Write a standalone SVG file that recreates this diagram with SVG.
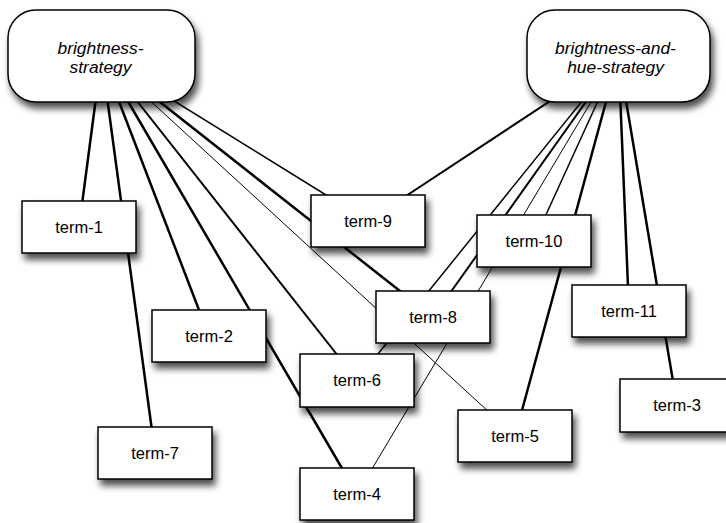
<svg xmlns="http://www.w3.org/2000/svg" width="726" height="523" viewBox="0 0 726 523">
<defs>
<filter id="sh" x="-20%" y="-20%" width="150%" height="160%">
<feGaussianBlur in="SourceAlpha" stdDeviation="3.5"/>
<feOffset dx="3" dy="6" result="b"/>
<feComponentTransfer><feFuncA type="linear" slope="0.7"/></feComponentTransfer>
<feMerge><feMergeNode/><feMergeNode in="SourceGraphic"/></feMerge>
</filter>
</defs>
<style>
.box{fill:#fff;stroke:#000;stroke-width:1.5;filter:url(#sh)}
.t{font-family:"Liberation Sans",Arial,sans-serif;font-size:16.5px;text-anchor:middle;fill:#000}
.h{font-family:"Liberation Sans",Arial,sans-serif;font-size:17.4px;font-style:italic;text-anchor:middle;fill:#000}
.e{stroke:#000;fill:none}
</style>
<rect width="726" height="523" fill="#fff"/>
<g id="connectors">
<line class="e" x1="101.5" y1="56" x2="79" y2="227" stroke-width="2.5"/>
<line class="e" x1="101.5" y1="56" x2="155" y2="453" stroke-width="2.5"/>
<line class="e" x1="101.5" y1="56" x2="209" y2="336" stroke-width="2.5"/>
<line class="e" x1="101.5" y1="56" x2="357" y2="494" stroke-width="2.5"/>
<line class="e" x1="101.5" y1="56" x2="357" y2="380" stroke-width="2"/>
<line class="e" x1="101.5" y1="56" x2="515" y2="436" stroke-width="1"/>
<line class="e" x1="101.5" y1="56" x2="433" y2="317" stroke-width="2.5"/>
<line class="e" x1="101.5" y1="56" x2="368" y2="221" stroke-width="1.5"/>
<line class="e" x1="618.5" y1="56" x2="368" y2="221" stroke-width="2"/>
<line class="e" x1="618.5" y1="56" x2="357" y2="380" stroke-width="1.5"/>
<line class="e" x1="618.5" y1="56" x2="433" y2="317" stroke-width="2"/>
<line class="e" x1="618.5" y1="56" x2="357" y2="494" stroke-width="1"/>
<line class="e" x1="618.5" y1="56" x2="534" y2="241" stroke-width="1.5"/>
<line class="e" x1="618.5" y1="56" x2="515" y2="436" stroke-width="2.5"/>
<line class="e" x1="618.5" y1="56" x2="629" y2="311" stroke-width="2.5"/>
<line class="e" x1="618.5" y1="56" x2="677" y2="405" stroke-width="2.5"/>
</g>
<g id="brightness-strategy">
<rect class="box" x="8" y="10" width="187" height="92" rx="28" ry="28"/>
<text class="h" x="100.5" y="53.5">brightness-</text>
<text class="h" x="100.5" y="72.5">strategy</text>
</g>
<g id="brightness-and-hue-strategy">
<rect class="box" x="527" y="10" width="183" height="92" rx="28" ry="28"/>
<text class="h" x="615.5" y="53.5">brightness-and-</text>
<text class="h" x="615.5" y="72.5">hue-strategy</text>
</g>
<g id="term-1"><rect class="box" x="22" y="201" width="114" height="52"/><text class="t" x="79" y="233">term-1</text></g>
<g id="term-2"><rect class="box" x="152" y="310" width="114" height="52"/><text class="t" x="209" y="342">term-2</text></g>
<g id="term-9"><rect class="box" x="311" y="195" width="114" height="52"/><text class="t" x="368" y="227">term-9</text></g>
<g id="term-10"><rect class="box" x="477" y="215" width="114" height="52"/><text class="t" x="534" y="247">term-10</text></g>
<g id="term-8"><rect class="box" x="376" y="291" width="114" height="52"/><text class="t" x="433" y="323">term-8</text></g>
<g id="term-6"><rect class="box" x="300" y="354" width="114" height="53"/><text class="t" x="357" y="386">term-6</text></g>
<g id="term-11"><rect class="box" x="572" y="285" width="114" height="52"/><text class="t" x="629" y="317">term-11</text></g>
<g id="term-5"><rect class="box" x="458" y="410" width="114" height="52"/><text class="t" x="515" y="442">term-5</text></g>
<g id="term-3"><rect class="box" x="620" y="379" width="114" height="53"/><text class="t" x="677" y="411">term-3</text></g>
<g id="term-7"><rect class="box" x="98" y="427" width="114" height="52"/><text class="t" x="155" y="459">term-7</text></g>
<g id="term-4"><rect class="box" x="300" y="468" width="114" height="52"/><text class="t" x="357" y="500">term-4</text></g>
</svg>
